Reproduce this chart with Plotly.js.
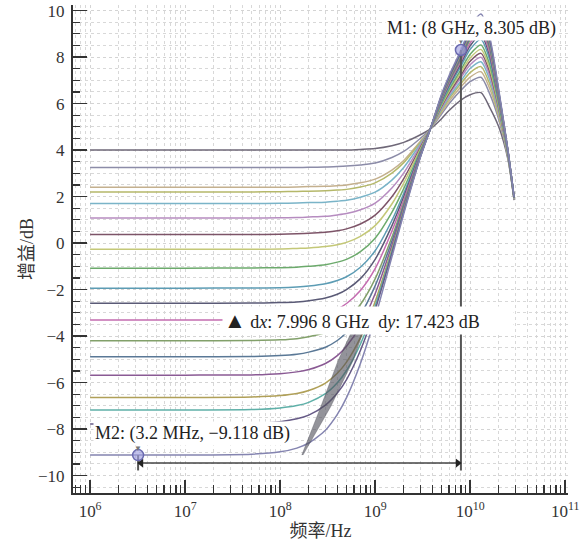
<!DOCTYPE html>
<html><head><meta charset="utf-8">
<script src="https://cdn.plot.ly/plotly-3.0.1.min.js"></script>
<style>html,body{margin:0;padding:0;background:#fff}#chart{width:588px;height:546px}</style>
</head><body><div id="chart"></div>
<script>
// frequency grid (Hz)
const freqHz = [1e6, 1e7, 5e7, 1e8, 1.5e8, 2e8, 3e8, 4e8, 5e8, 7e8, 1e9, 1.5e9, 2e9, 3e9, 3.8e9, 5e9, 6e9, 8e9, 1e10, 1.3e10, 1.6e10, 2e10, 2.5e10, 2.9e10];

// gain curves (dB), named by DC gain
const gain_p4_00 = [4.0, 4.0, 4.0, 4.0, 4.0, 4.0, 4.0, 4.0, 4.0, 4.03, 4.07, 4.19, 4.33, 4.66, 4.9, 5.35, 5.7, 6.15, 6.38, 6.47, 5.85, 5.0, 3.6, 1.85];
const gain_p3_25 = [3.25, 3.25, 3.25, 3.25, 3.25, 3.26, 3.27, 3.29, 3.31, 3.36, 3.44, 3.68, 3.94, 4.51, 4.9, 5.55, 5.99, 6.57, 6.94, 7.13, 6.44, 5.31, 3.68, 1.88];
const gain_p2_40 = [2.4, 2.4, 2.4, 2.4, 2.41, 2.43, 2.44, 2.47, 2.5, 2.59, 2.75, 3.14, 3.55, 4.38, 4.9, 5.63, 6.10, 6.72, 7.14, 7.37, 6.66, 5.43, 3.71, 1.89];
const gain_p2_20 = [2.2, 2.2, 2.2, 2.21, 2.22, 2.23, 2.25, 2.28, 2.31, 2.41, 2.59, 3.01, 3.46, 4.34, 4.9, 5.70, 6.20, 6.86, 7.33, 7.59, 6.86, 5.53, 3.73, 1.90];
const gain_p1_70 = [1.7, 1.7, 1.7, 1.71, 1.72, 1.74, 1.76, 1.80, 1.84, 1.97, 2.19, 2.71, 3.25, 4.27, 4.9, 5.76, 6.29, 6.97, 7.51, 7.80, 7.05, 5.63, 3.76, 1.91];
const gain_p1_08 = [1.08, 1.08, 1.08, 1.09, 1.10, 1.12, 1.15, 1.21, 1.27, 1.43, 1.72, 2.37, 3.02, 4.20, 4.9, 5.82, 6.38, 7.12, 7.67, 7.99, 7.22, 5.72, 3.78, 1.92];
const gain_p0_37 = [0.37, 0.37, 0.37, 0.38, 0.40, 0.42, 0.47, 0.53, 0.61, 0.82, 1.20, 1.99, 2.77, 4.12, 4.9, 5.88, 6.45, 7.23, 7.82, 8.16, 7.38, 5.80, 3.80, 1.93];
const gain_m0_27 = [-0.27, -0.27, -0.27, -0.26, -0.23, -0.21, -0.15, -0.07, 0.03, 0.29, 0.75, 1.68, 2.58, 4.05, 4.9, 5.93, 6.53, 7.34, 7.96, 8.33, 7.53, 5.88, 3.82, 1.93];
const gain_m1_08 = [-1.08, -1.08, -1.07, -1.06, -1.04, -1.00, -0.93, -0.82, -0.70, -0.37, 0.21, 1.32, 2.34, 3.98, 4.9, 5.99, 6.61, 7.46, 8.12, 8.52, 7.70, 5.97, 3.84, 1.94];
const gain_m1_94 = [-1.94, -1.94, -1.93, -1.92, -1.89, -1.85, -1.75, -1.61, -1.45, -1.04, -0.33, 0.97, 2.13, 3.93, 4.9, 6.06, 6.72, 7.61, 8.33, 8.76, 7.92, 6.08, 3.87, 1.95];
const gain_m2_59 = [-2.59, -2.59, -2.58, -2.56, -2.53, -2.48, -2.36, -2.20, -2.00, -1.53, -0.70, 0.74, 1.99, 3.89, 4.9, 6.12, 6.80, 7.73, 8.49, 8.95, 8.09, 6.17, 3.89, 1.96];
const gain_m3_31 = [-3.31, -3.31, -3.30, -3.28, -3.23, -3.18, -3.03, -2.84, -2.60, -2.04, -1.10, 0.51, 1.85, 3.85, 4.9, 6.17, 6.87, 7.83, 8.61, 9.10, 8.22, 6.24, 3.91, 1.97];
const gain_m4_20 = [-4.2, -4.2, -4.19, -4.16, -4.11, -4.03, -3.85, -3.61, -3.32, -2.64, -1.54, 0.25, 1.71, 3.81, 4.9, 6.21, 6.93, 7.92, 8.74, 9.25, 8.36, 6.32, 3.93, 1.97];
const gain_m4_89 = [-4.89, -4.89, -4.88, -4.84, -4.78, -4.69, -4.48, -4.19, -3.85, -3.08, -1.84, 0.08, 1.62, 3.79, 4.9, 6.24, 6.98, 7.99, 8.83, 9.35, 8.45, 6.36, 3.94, 1.98];
const gain_m5_68 = [-5.68, -5.68, -5.67, -5.62, -5.54, -5.44, -5.18, -4.84, -4.44, -3.55, -2.18, -0.10, 1.53, 3.76, 4.9, 6.28, 7.02, 8.05, 8.91, 9.45, 8.54, 6.41, 3.95, 1.98];
const gain_m6_64 = [-6.64, -6.64, -6.62, -6.56, -6.47, -6.34, -6.02, -5.60, -5.12, -4.07, -2.52, -0.28, 1.43, 3.74, 4.9, 6.31, 7.07, 8.11, 8.99, 9.55, 8.63, 6.46, 3.96, 1.99];
const gain_m7_18 = [-7.18, -7.18, -7.16, -7.09, -6.99, -6.85, -6.48, -6.01, -5.48, -4.35, -2.70, -0.36, 1.38, 3.73, 4.9, 6.33, 7.10, 8.16, 9.05, 9.62, 8.69, 6.49, 3.97, 1.99];
const gain_m7_78 = [-7.78, -7.78, -7.76, -7.68, -7.56, -7.40, -6.97, -6.45, -5.87, -4.62, -2.87, -0.45, 1.34, 3.72, 4.9, 6.35, 7.13, 8.21, 9.12, 9.70, 8.77, 6.53, 3.98, 1.99];
const gain_m9_12 = [-9.118, -9.118, -9.08, -8.98, -8.82, -8.60, -8.05, -7.37, -6.65, -5.18, -3.20, -0.60, 1.26, 3.70, 4.9, 6.40, 7.20, 8.305, 9.25, 9.85, 8.90, 6.60, 4.00, 2.00];

const curveGains = [gain_p4_00, gain_p3_25, gain_p2_40, gain_p2_20, gain_p1_70, gain_p1_08, gain_p0_37, gain_m0_27, gain_m1_08, gain_m1_94,
                    gain_m2_59, gain_m3_31, gain_m4_20, gain_m4_89, gain_m5_68, gain_m6_64, gain_m7_18, gain_m7_78, gain_m9_12];
const curveColors = ['#6f6878', '#8c8ca8', '#c4b08e', '#b5b86a', '#7ab4c8', '#b68cc0', '#7d5468', '#c4c878', '#6caa6c', '#5c9cb4',
                     '#5a5a76', '#c46cb0', '#82a06a', '#5a7896', '#8a5a94', '#b0a058', '#5fb0a8', '#665a86', '#8484b0'];

// dark wedge seen in the reference
const wedgeFreq = [1.69e8, 2.6e8, 4.1e8, 5.7e8, 7.2e8, 8.0e8, 7.6e8, 5.9e8, 3.4e8, 1.74e8];
const wedgeGain = [-9.12, -7.18, -5.03, -3.74, -2.9, -2.9, -3.74, -5.03, -7.04, -9.12];

// markers
const markerNames = ['M1', 'M2'];
const markerFreq = [8e9, 3.2e6];
const markerGain = [8.305, -9.118];
const deltaArrowGain = -9.46;
const deltaFloorGain = -9.78;
const arrowHeadFreq = [3.45e6, 7.4e9];

// ticks
const yTickVals = [-10, -8, -6, -4, -2, 0, 2, 4, 6, 8, 10];
const yTickText = ['\u221210', '\u22128', '\u22126', '\u22124', '\u22122', '0', '2', '4', '6', '8', '10'];
const xTickVals = [1e6, 1e7, 1e8, 1e9, 1e10, 1e11];
const xTickText = ['10<sup>6</sup>', '10<sup>7</sup>', '10<sup>8</sup>', '10<sup>9</sup>', '10<sup>10</sup>', '10<sup>11</sup>'];

const serif = 'Liberation Serif, Noto Sans CJK SC, serif';
const traces = [];
curveGains.forEach((g, i) => {
  traces.push({x: freqHz, y: g, type: 'scatter', mode: 'lines',
    line: {color: curveColors[i], width: 1.5, shape: 'spline', smoothing: 0.7}, hoverinfo: 'skip'});
});
traces.push({x: wedgeFreq, y: wedgeGain, type: 'scatter', mode: 'lines', fill: 'toself',
  fillcolor: 'rgba(80,80,92,0.62)', line: {color: 'rgba(80,80,92,0.7)', width: 0.5}, hoverinfo: 'skip'});
// delta marker lines
traces.push({x: [markerFreq[0], markerFreq[0]], y: [markerGain[0], deltaFloorGain], type: 'scatter', mode: 'lines',
  line: {color: '#555', width: 2}, hoverinfo: 'skip'});
traces.push({x: [markerFreq[1], markerFreq[1]], y: [markerGain[1], deltaFloorGain], type: 'scatter', mode: 'lines',
  line: {color: '#555', width: 2}, hoverinfo: 'skip'});
traces.push({x: [markerFreq[1], markerFreq[0]], y: [deltaArrowGain, deltaArrowGain], type: 'scatter', mode: 'lines',
  line: {color: '#444', width: 1.5}, hoverinfo: 'skip'});
traces.push({x: arrowHeadFreq, y: [deltaArrowGain, deltaArrowGain], type: 'scatter', mode: 'markers',
  marker: {symbol: ['triangle-left', 'triangle-right'], size: 8, color: '#222'}, hoverinfo: 'skip'});
traces.push({x: markerFreq, y: markerGain, type: 'scatter', mode: 'markers',
  marker: {symbol: 'circle', size: 11, color: 'rgba(160,160,225,0.65)', line: {color: '#6a6ab0', width: 1.5}}, hoverinfo: 'skip'});

const lx = Math.log10;
const annotations = [
  {x: lx(markerFreq[0]), y: markerGain[0], xref: 'x', yref: 'y', text: '\u25BC', showarrow: false, yshift: 8,
   font: {size: 8, color: '#777'}},
  {x: lx(markerFreq[1]), y: markerGain[1], xref: 'x', yref: 'y', text: '\u25BC', showarrow: false, yshift: 7,
   font: {size: 8, color: '#777'}},
  {x: 9.1, y: 9.25, xref: 'x', yref: 'y', xanchor: 'left', yanchor: 'middle', showarrow: false,
   text: markerNames[0] + ': (8 GHz, 8.305 dB)', bgcolor: '#fff', borderpad: 1, font: {family: serif, size: 18, color: '#222'}},
  {x: 6.03, y: -8.2, xref: 'x', yref: 'y', xanchor: 'left', yanchor: 'middle', showarrow: false,
   text: markerNames[1] + ': (3.2 MHz, \u22129.118 dB)', bgcolor: '#fff', borderpad: 1, font: {family: serif, size: 18, color: '#222'}},
  {x: 7.39, y: -3.31, xref: 'x', yref: 'y', xanchor: 'left', yanchor: 'middle', showarrow: false, width: 288, align: 'left',
   text: '<span style="font-size:22px">\u25B2</span> d<i>x</i>: 7.996 8 GHz  d<i>y</i>: 17.423 dB', bgcolor: '#fff', borderpad: 1,
   font: {family: serif, size: 18, color: '#222'}}
];

const layout = {
  width: 588, height: 546,
  margin: {l: 73, r: 20, t: 5, b: 53},
  paper_bgcolor: '#fff', plot_bgcolor: '#fff',
  showlegend: false,
  font: {family: serif, size: 17, color: '#333'},
  xaxis: {
    type: 'log', range: [5.82, 11.03], tickvals: xTickVals, ticktext: xTickText,
    ticks: 'inside', ticklen: 13, tickwidth: 1.5, tickcolor: '#333', ticklabelstandoff: 2,
    showline: true, linecolor: '#333', linewidth: 2, mirror: false, zeroline: false,
    showgrid: true, gridcolor: '#d4d4d4', griddash: 'dot', gridwidth: 1,
    minor: {dtick: 'D1', ticks: 'inside', ticklen: 8, tickwidth: 1.2, tickcolor: '#333', showgrid: true, gridcolor: '#d8d8d8', griddash: 'dot'},
    tickfont: {family: serif, size: 17, color: '#333'},
    title: {text: '频率/Hz', font: {family: serif, size: 18, color: '#333'}, standoff: 4}
  },
  yaxis: {
    range: [-10.75, 10.24], tickvals: yTickVals, ticktext: yTickText,
    ticks: 'inside', ticklen: 14, tickwidth: 1.5, tickcolor: '#333', ticklabelstandoff: 3,
    showline: true, linecolor: '#333', linewidth: 2, mirror: false, zeroline: false,
    showgrid: true, gridcolor: '#d4d4d4', griddash: 'dot', gridwidth: 1,
    minor: {dtick: 0.5, ticks: 'inside', ticklen: 7, tickwidth: 1.2, tickcolor: '#333', showgrid: true, gridcolor: '#d8d8d8', griddash: 'dot'},
    tickfont: {family: serif, size: 17, color: '#333'},
    title: {text: '增益/dB', font: {family: serif, size: 18, color: '#333'}, standoff: 0}
  },
  annotations: annotations
};

Plotly.newPlot('chart', traces, layout, {displayModeBar: false, staticPlot: true});
</script>
</body></html>
